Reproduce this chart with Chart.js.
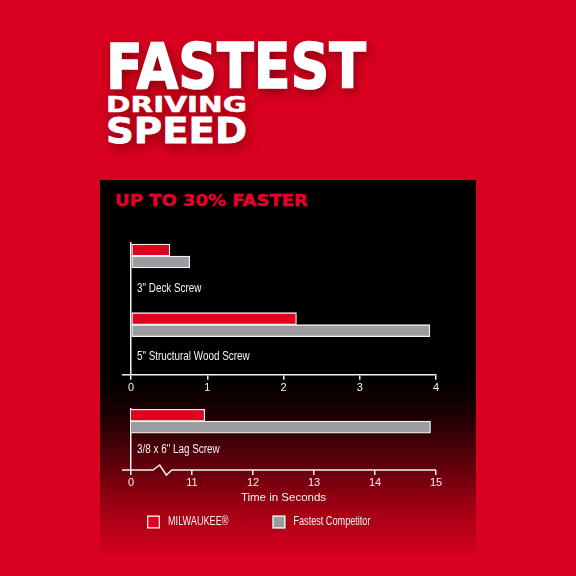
<!DOCTYPE html>
<html>
<head>
<meta charset="utf-8">
<script src="https://cdn.jsdelivr.net/npm/chart.js@4.4.1/dist/chart.umd.min.js"></script>
<style>
  html, body { margin: 0; padding: 0; }
  body { width: 576px; height: 576px; background: #da001f; position: relative; overflow: hidden; }
  #panel {
    position: absolute; left: 100px; top: 180px; width: 376px; height: 375px;
    background: linear-gradient(to bottom, #000 0%, #000 52%, #1a0003 62%, #6a000c 78%, #a80015 89%, #d2001d 100%);
  }
  .hd {
    position: absolute; left: 106px; white-space: nowrap; line-height: 1;
    font-family: "DejaVu Sans", sans-serif; font-weight: bold; color: #fff;
    transform-origin: 0 0; text-shadow: 2px 4px 12px rgba(70, 0, 0, 0.65);
  }
  #h1 { top: 35px; font-size: 63px; -webkit-text-stroke: 1.6px #fff; }
  #h2 { top: 94px; font-size: 22px; -webkit-text-stroke: 0.5px #fff; }
  #h3 { top: 113px; font-size: 36px; -webkit-text-stroke: 0.8px #fff; }
  #sub { left: 115px; top: 193px; font-size: 16.5px; color: #e4002b; text-shadow: none; -webkit-text-stroke: 0.4px #e4002b; }
  canvas { position: absolute; left: 100px; }
  #topChart { top: 230px; }
  #lagChart { top: 400px; }
</style>
</head>
<body>
<div id="panel"></div>
<div class="hd" id="h1">FASTEST</div>
<div class="hd" id="h2">DRIVING</div>
<div class="hd" id="h3">SPEED</div>
<div class="hd" id="sub">UP TO 30% FASTER</div>
<canvas id="topChart" width="376" height="170"></canvas>
<canvas id="lagChart" width="376" height="176"></canvas>
<script>
// dati (secondi)
const categorieTop = ['3" Deck Screw', '5" Structural Wood Screw'];
const milwaukeeTop = [0.51, 2.17];
const concorrenteTop = [0.77, 3.92];

const categorieLag = ['3/8 x 6" Lag Screw'];
const milwaukeeLag = [11.21];
const concorrenteLag = [14.91];

const nomiSerie = ['MILWAUKEE®', 'Fastest Competitor'];
const tickTop = ['0', '1', '2', '3', '4'];
const tickLag = ['0', '11', '12', '13', '14', '15'];
const titoloAsse = 'Time in Seconds';

const ROSSO = '#e1001e';
const GRIGIO = '#9b9ca0';
const BIANCO = '#f2f2f2';
const FONT = "'Liberation Sans', Arial, sans-serif";
const STRETTO = 0.76; // testo "condensed"

Chart.defaults.font.family = FONT;
Chart.defaults.color = BIANCO;

// adatta la larghezza dei titoli
function adatta(id, larghezza) {
  const el = document.getElementById(id);
  const w = el.getBoundingClientRect().width;
  el.style.transform = 'scaleX(' + (larghezza / w) + ')';
}
adatta('h1', 260);
adatta('h2', 141);
adatta('h3', 141);
adatta('sub', 193);

function testoStretto(ctx, testo, x, y) {
  ctx.save();
  ctx.translate(x, y);
  ctx.scale(STRETTO, 1);
  ctx.fillText(testo, 0, 0);
  ctx.restore();
  return ctx.measureText(testo).width * STRETTO;
}

function datasetBarre(nome, dati, colore) {
  return {
    label: nome,
    data: dati,
    backgroundColor: colore,
    borderColor: BIANCO,
    borderWidth: 1.3,
    borderSkipped: false,
    barThickness: 12,
  };
}

// etichette delle categorie sotto le barre
const etichettePlugin = {
  id: 'etichette',
  afterDatasetsDraw(chart, args, opts) {
    const ctx = chart.ctx;
    const ys = chart.scales.y;
    ctx.save();
    ctx.fillStyle = BIANCO;
    ctx.font = '13px ' + FONT;
    ctx.textBaseline = 'middle';
    chart.data.labels.forEach((lab, i) => {
      testoStretto(ctx, lab, chart.chartArea.left + 6, ys.getPixelForValue(i) + opts.offset);
    });
    ctx.restore();
  }
};

// prolungamento dell'asse x a sinistra dello zero
const asseTopPlugin = {
  id: 'asseTop',
  afterDraw(chart) {
    const ctx = chart.ctx;
    const a = chart.chartArea;
    ctx.save();
    ctx.strokeStyle = BIANCO;
    ctx.lineWidth = 1.5;
    ctx.beginPath();
    ctx.moveTo(a.left - 9, a.bottom);
    ctx.lineTo(a.left, a.bottom);
    ctx.stroke();
    ctx.restore();
  }
};

// asse con interruzione a zig-zag + legenda
const asseLagPlugin = {
  id: 'asseLag',
  afterDraw(chart) {
    const ctx = chart.ctx;
    const a = chart.chartArea;
    const xs = chart.scales.x;
    const y = a.bottom;
    ctx.save();
    ctx.strokeStyle = BIANCO;
    ctx.lineWidth = 1.5;
    ctx.beginPath();
    ctx.moveTo(a.left - 9, y);
    ctx.lineTo(xs.getPixelForValue(10.36), y);
    ctx.lineTo(xs.getPixelForValue(10.47), y - 5);
    ctx.lineTo(xs.getPixelForValue(10.58), y + 5);
    ctx.lineTo(xs.getPixelForValue(10.67), y);
    ctx.lineTo(a.right, y);
    ctx.stroke();

    // legenda
    const colori = [ROSSO, GRIGIO];
    let x = a.left + 16;
    const yl = y + 52;
    ctx.font = '12px ' + FONT;
    ctx.textBaseline = 'middle';
    chart.data.datasets.forEach((ds, i) => {
      ctx.fillStyle = colori[i];
      ctx.fillRect(x, yl - 6.5, 13, 13);
      ctx.lineWidth = 1.3;
      ctx.strokeStyle = BIANCO;
      ctx.strokeRect(x + 0.65, yl - 5.85, 11.7, 11.7);
      ctx.fillStyle = BIANCO;
      const w = testoStretto(ctx, ds.label, x + 21, yl);
      x += 21 + w + 44;
    });
    ctx.restore();
  }
};

new Chart(document.getElementById('topChart'), {
  type: 'bar',
  data: {
    labels: categorieTop,
    datasets: [
      datasetBarre(nomiSerie[0], milwaukeeTop, ROSSO),
      datasetBarre(nomiSerie[1], concorrenteTop, GRIGIO),
    ],
  },
  options: {
    indexAxis: 'y',
    responsive: false,
    animation: false,
    layout: { padding: { left: 31, right: 40, top: 13, bottom: 3 } },
    plugins: { legend: { display: false }, tooltip: { enabled: false }, etichette: { offset: 32 } },
    scales: {
      x: {
        min: 0,
        max: 4,
        ticks: { stepSize: 1, padding: 2, color: BIANCO, font: { size: 11 }, callback: (v, i) => tickTop[i] },
        grid: { drawOnChartArea: false, color: BIANCO, tickLength: 5, lineWidth: 1.5 },
        border: { color: BIANCO, width: 1.5 },
      },
      y: {
        ticks: { display: false },
        grid: { display: false, drawTicks: false },
        border: { color: BIANCO, width: 1.5 },
        afterBuildTicks: (s) => { s._startValue = -0.19; s._valueRange = 1.92; },
      },
    },
  },
  plugins: [etichettePlugin, asseTopPlugin],
});

new Chart(document.getElementById('lagChart'), {
  type: 'bar',
  data: {
    labels: categorieLag,
    datasets: [
      datasetBarre(nomiSerie[0], milwaukeeLag, ROSSO),
      datasetBarre(nomiSerie[1], concorrenteLag, GRIGIO),
    ],
  },
  options: {
    indexAxis: 'y',
    responsive: false,
    animation: false,
    layout: { padding: { left: 31, right: 40, top: 9, bottom: 71 } },
    plugins: { legend: { display: false }, tooltip: { enabled: false }, etichette: { offset: 28 } },
    scales: {
      x: {
        min: 10,
        max: 15,
        ticks: { stepSize: 1, padding: 1, color: BIANCO, font: { size: 11 }, callback: (v, i) => tickLag[i] },
        grid: { drawOnChartArea: false, color: BIANCO, tickLength: 5, lineWidth: 1.5 },
        border: { display: false },
        title: { display: true, text: titoloAsse, color: BIANCO, font: { size: 11.5 }, padding: { top: 1, bottom: 0 } },
      },
      y: {
        ticks: { display: false },
        grid: { display: false, drawTicks: false },
        border: { color: BIANCO, width: 1.5 },
        afterBuildTicks: (s) => { s._startValue = -0.2; s._valueRange = 1; },
      },
    },
  },
  plugins: [etichettePlugin, asseLagPlugin],
});
</script>
</body>
</html>
